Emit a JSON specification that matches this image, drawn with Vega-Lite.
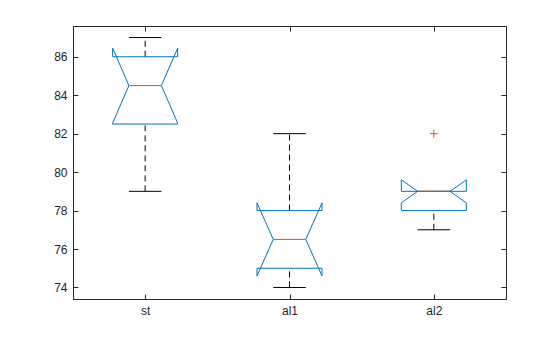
{
  "$schema": "https://vega.github.io/schema/vega-lite/v6.json",
  "width": 433,
  "height": 273,
  "autosize": "none",
  "padding": {"left": 73, "top": 26, "right": 54, "bottom": 38},
  "background": "white",
  "config": {
    "view": {"stroke": "#262626", "strokeWidth": 1},
    "axis": {
      "grid": false,
      "title": null,
      "labelFont": "Liberation Sans",
      "labelFontSize": 12,
      "labelColor": "#262626",
      "domainColor": "#262626",
      "tickColor": "#262626",
      "tickSize": -5,
      "labelPadding": 11
    }
  },
  "datasets": {
    "boxes": [
      {"g": "st", "i": 1, "wlo": 79, "q1": 82.5, "nlo": 82.55, "med": 84.5, "nhi": 86.45, "q3": 86, "whi": 87},
      {"g": "al1", "i": 2, "wlo": 74, "q1": 75, "nlo": 74.6, "med": 76.5, "nhi": 78.4, "q3": 78, "whi": 82},
      {"g": "al2", "i": 3, "wlo": 77, "q1": 78, "nlo": 78.4, "med": 79, "nhi": 79.6, "q3": 79, "whi": 79}
    ],
    "outliers": [
      {"g": "al2", "i": 3, "v": 82}
    ]
  },
  "resolve": {"axis": {"x": "independent", "y": "independent"}},
  "layer": [
    {
      "data": {"name": "boxes"},
      "mark": {"type": "rule", "color": "black", "strokeWidth": 1, "strokeDash": [6, 4]},
      "encoding": {
        "x": {"field": "i", "type": "quantitative", "scale": {"domain": [0.5, 3.5], "nice": false, "zero": false},
              "axis": {"orient": "bottom", "values": [1, 2, 3], "labelExpr": "datum.value == 1 ? 'st' : datum.value == 2 ? 'al1' : 'al2'"}},
        "y": {"field": "wlo", "type": "quantitative", "scale": {"domain": [73.4, 87.6], "nice": false, "zero": false},
              "axis": {"orient": "left", "values": [74, 76, 78, 80, 82, 84, 86]}},
        "y2": {"field": "q1"}
      }
    },
    {
      "data": {"name": "boxes"},
      "mark": {"type": "rule", "color": "black", "strokeWidth": 1, "strokeDash": [6, 4]},
      "encoding": {
        "x": {"field": "i", "type": "quantitative", "axis": null},
        "y": {"field": "q3", "type": "quantitative", "axis": null},
        "y2": {"field": "whi"}
      }
    },
    {
      "data": {"name": "boxes"},
      "mark": {"type": "rule", "color": "black", "strokeWidth": 1, "xOffset": -16.25, "x2Offset": 16.25},
      "encoding": {
        "x": {"field": "i", "type": "quantitative", "axis": null},
        "x2": {"field": "i"},
        "y": {"field": "wlo", "type": "quantitative", "axis": null}
      }
    },
    {
      "data": {"name": "boxes"},
      "mark": {"type": "rule", "color": "black", "strokeWidth": 1, "xOffset": -16.25, "x2Offset": 16.25},
      "encoding": {
        "x": {"field": "i", "type": "quantitative", "axis": null},
        "x2": {"field": "i"},
        "y": {"field": "whi", "type": "quantitative", "axis": null}
      }
    },
    {
      "data": {"name": "boxes"},
      "mark": {"type": "rule", "color": "#0072BD", "strokeWidth": 1, "xOffset": -32.5, "x2Offset": 32.5},
      "encoding": {
        "x": {"field": "i", "type": "quantitative", "axis": null},
        "x2": {"field": "i"},
        "y": {"field": "q3", "type": "quantitative", "axis": null}
      }
    },
    {
      "data": {"name": "boxes"},
      "mark": {"type": "rule", "color": "#0072BD", "strokeWidth": 1, "xOffset": -32.5, "x2Offset": 32.5},
      "encoding": {
        "x": {"field": "i", "type": "quantitative", "axis": null},
        "x2": {"field": "i"},
        "y": {"field": "q1", "type": "quantitative", "axis": null}
      }
    },
    {
      "data": {"name": "boxes"},
      "mark": {"type": "rule", "color": "#0072BD", "strokeWidth": 1, "xOffset": -32.5},
      "encoding": {
        "x": {"field": "i", "type": "quantitative", "axis": null},
        "y": {"field": "q3", "type": "quantitative", "axis": null},
        "y2": {"field": "nhi"}
      }
    },
    {
      "data": {"name": "boxes"},
      "mark": {"type": "rule", "color": "#0072BD", "strokeWidth": 1, "xOffset": 32.5},
      "encoding": {
        "x": {"field": "i", "type": "quantitative", "axis": null},
        "y": {"field": "q3", "type": "quantitative", "axis": null},
        "y2": {"field": "nhi"}
      }
    },
    {
      "data": {"name": "boxes"},
      "mark": {"type": "rule", "color": "#0072BD", "strokeWidth": 1, "xOffset": -32.5},
      "encoding": {
        "x": {"field": "i", "type": "quantitative", "axis": null},
        "y": {"field": "q1", "type": "quantitative", "axis": null},
        "y2": {"field": "nlo"}
      }
    },
    {
      "data": {"name": "boxes"},
      "mark": {"type": "rule", "color": "#0072BD", "strokeWidth": 1, "xOffset": 32.5},
      "encoding": {
        "x": {"field": "i", "type": "quantitative", "axis": null},
        "y": {"field": "q1", "type": "quantitative", "axis": null},
        "y2": {"field": "nlo"}
      }
    },
    {
      "data": {"name": "boxes"},
      "mark": {"type": "rule", "color": "#0072BD", "strokeWidth": 1, "xOffset": -32.5, "x2Offset": -16.25},
      "encoding": {
        "x": {"field": "i", "type": "quantitative", "axis": null},
        "x2": {"field": "i"},
        "y": {"field": "nhi", "type": "quantitative", "axis": null},
        "y2": {"field": "med"}
      }
    },
    {
      "data": {"name": "boxes"},
      "mark": {"type": "rule", "color": "#0072BD", "strokeWidth": 1, "xOffset": 32.5, "x2Offset": 16.25},
      "encoding": {
        "x": {"field": "i", "type": "quantitative", "axis": null},
        "x2": {"field": "i"},
        "y": {"field": "nhi", "type": "quantitative", "axis": null},
        "y2": {"field": "med"}
      }
    },
    {
      "data": {"name": "boxes"},
      "mark": {"type": "rule", "color": "#0072BD", "strokeWidth": 1, "xOffset": -32.5, "x2Offset": -16.25},
      "encoding": {
        "x": {"field": "i", "type": "quantitative", "axis": null},
        "x2": {"field": "i"},
        "y": {"field": "nlo", "type": "quantitative", "axis": null},
        "y2": {"field": "med"}
      }
    },
    {
      "data": {"name": "boxes"},
      "mark": {"type": "rule", "color": "#0072BD", "strokeWidth": 1, "xOffset": 32.5, "x2Offset": 16.25},
      "encoding": {
        "x": {"field": "i", "type": "quantitative", "axis": null},
        "x2": {"field": "i"},
        "y": {"field": "nlo", "type": "quantitative", "axis": null},
        "y2": {"field": "med"}
      }
    },
    {
      "data": {"name": "boxes"},
      "mark": {"type": "rule", "color": "#D95319", "strokeWidth": 1, "xOffset": -16.25, "x2Offset": 16.25},
      "encoding": {
        "x": {"field": "i", "type": "quantitative", "axis": null},
        "x2": {"field": "i"},
        "y": {"field": "med", "type": "quantitative", "axis": null}
      }
    },
    {
      "data": {"name": "outliers"},
      "mark": {"type": "point", "shape": "M-1,0H1M0,-1V1", "filled": false, "color": "#D95319", "strokeWidth": 1, "size": 64, "opacity": 1},
      "encoding": {
        "x": {"field": "i", "type": "quantitative", "axis": {"orient": "top", "values": [1, 2, 3], "labels": false}},
        "y": {"field": "v", "type": "quantitative", "axis": {"orient": "right", "values": [74, 76, 78, 80, 82, 84, 86], "labels": false}}
      }
    }
  ]
}
